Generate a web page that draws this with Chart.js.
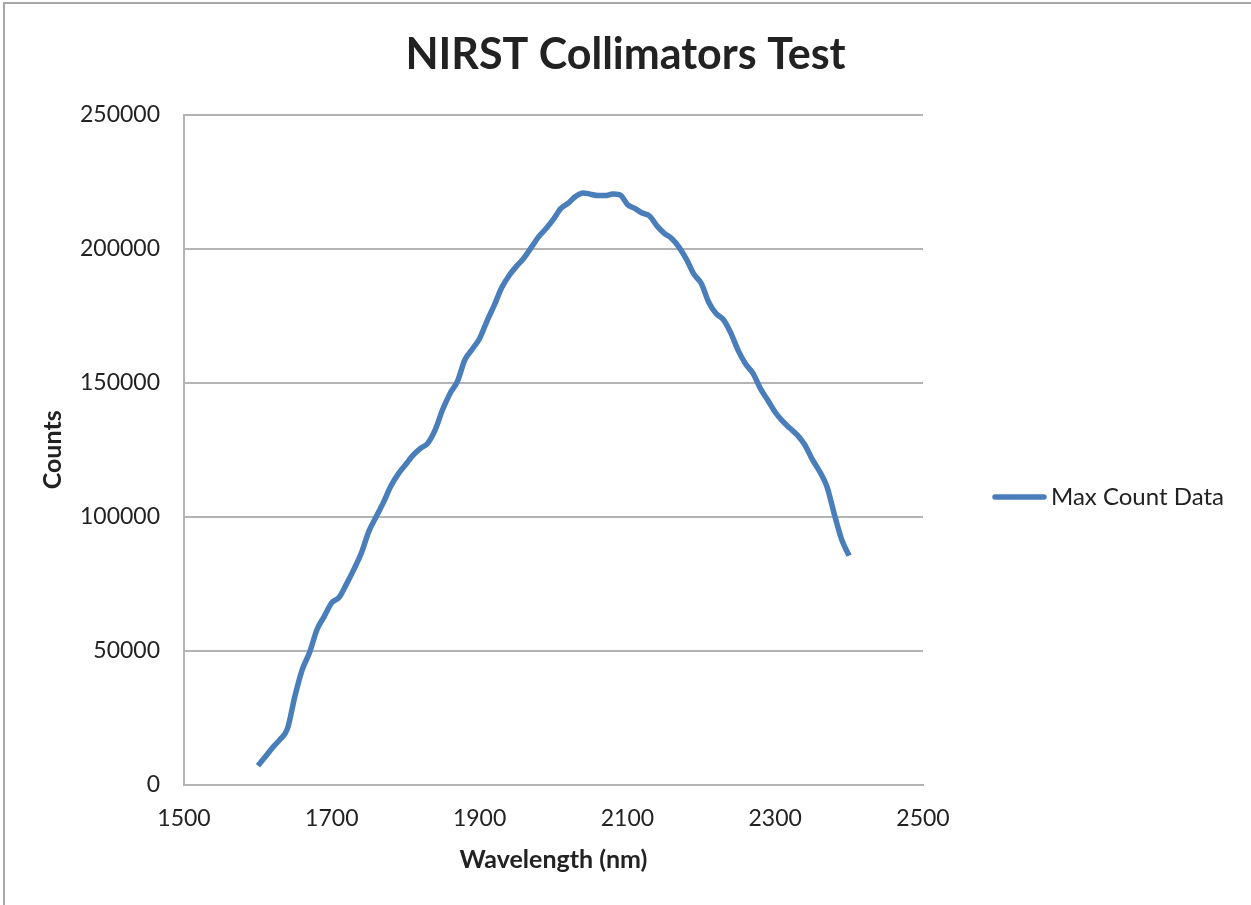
<!DOCTYPE html>
<html lang="en">
<head>
  <meta charset="UTF-8">
  <title>NIRST Collimators Test</title>
  <script src="https://cdn.jsdelivr.net/npm/chart.js"></script>
  <style>
    html, body { margin: 0; padding: 0; background: #fff; overflow: hidden; }
    #frame { position: absolute; left: 3px; top: 2px; width: 1400px; height: 1000px; border: 2px solid #a8a8a8; }
    #wrap { position: absolute; left: 0; top: 0; width: 1251px; height: 905px; }
  </style>
</head>
<body>
  <div id="frame"></div>
  <div id="wrap"><canvas id="chart"></canvas></div>
  <script>
  // wavelength (nm), every 10 nm
  const wavelengths = [
    1600, 1610, 1620, 1630, 1640, 1650, 1660, 1670, 1680, 1690,
    1700, 1710, 1720, 1730, 1740, 1750, 1760, 1770, 1780, 1790,
    1800, 1810, 1820, 1830, 1840, 1850, 1860, 1870, 1880, 1890,
    1900, 1910, 1920, 1930, 1940, 1950, 1960, 1970, 1980, 1990,
    2000, 2010, 2020, 2030, 2040, 2050, 2060, 2070, 2080, 2090,
    2100, 2110, 2120, 2130, 2140, 2150, 2160, 2170, 2180, 2190,
    2200, 2210, 2220, 2230, 2240, 2250, 2260, 2270, 2280, 2290,
    2300, 2310, 2320, 2330, 2340, 2350, 2360, 2370, 2380, 2390,
    2400
  ];
  const maxCounts = [
    7200, 10500, 14000, 17000, 21000, 33000, 43000, 49500, 58000, 63000,
    68000, 70000, 75000, 80500, 86500, 94500, 100000, 105500, 111500, 116000,
    119500, 123000, 125500, 127500, 132500, 140000, 146000, 150500, 158500, 162500,
    166500, 173000, 179000, 185500, 190000, 193500, 196500, 200500, 204500, 207500,
    211000, 215000, 217000, 219500, 220800, 220300, 219800, 219800, 220400, 220100,
    216500, 215000, 213300, 212200, 208500, 205700, 203800, 200500, 196000, 190500,
    187000, 180000, 175800, 173500, 168500, 162000, 157000, 153500, 147800, 143500,
    139000, 135700, 133000, 130500, 126900, 121500, 117000, 111300, 101000, 91500,
    85500
  ];
  const seriesLabel = 'Max Count Data';
  const lineColor = '#4a7ebb';
  const gridColor = '#b3b3b3';
  const fontFamily = 'Lato, "Open Sans", sans-serif';

  const points = wavelengths.map((w, i) => ({ x: w, y: maxCounts[i] }));

  // legend to the right of the plot, Excel style (line sample + text)
  const sideLegend = {
    id: 'sideLegend',
    afterDraw(chart) {
      const ctx = chart.ctx;
      const ds = chart.data.datasets[0];
      const y = 497;
      ctx.save();
      ctx.strokeStyle = ds.borderColor;
      ctx.lineWidth = 5.5;
      ctx.lineCap = 'round';
      ctx.beginPath();
      ctx.moveTo(995, y);
      ctx.lineTo(1044, y);
      ctx.stroke();
      ctx.fillStyle = '#222';
      ctx.font = '24px ' + fontFamily;
      ctx.textBaseline = 'middle';
      ctx.fillText(ds.label, 1051, y);
      ctx.restore();
    }
  };

  new Chart(document.getElementById('chart'), {
    type: 'line',
    data: {
      datasets: [{
        label: seriesLabel,
        data: points,
        borderColor: lineColor,
        backgroundColor: lineColor,
        borderWidth: 5.5,
        pointRadius: 0,
        tension: 0.4,
        cubicInterpolationMode: 'monotone'
      }]
    },
    options: {
      responsive: true,
      maintainAspectRatio: false,
      animation: false,
      layout: { padding: 0 },
      plugins: {
        legend: { display: false },
        tooltip: { enabled: false },
        title: {
          display: true,
          text: 'NIRST Collimators Test',
          color: '#222',
          font: { family: fontFamily, size: 43, weight: 'bold', lineHeight: 1.2 },
          padding: { top: 29, bottom: 34 }
        }
      },
      scales: {
        x: {
          type: 'linear',
          min: 1500,
          max: 2500,
          afterFit: s => { s.height = 120; },
          ticks: {
            stepSize: 200,
            color: '#222',
            padding: 20,
            maxRotation: 0,
            font: { family: fontFamily, size: 23 },
            callback: v => String(v)
          },
          grid: { display: false, drawTicks: false },
          border: { display: true, color: gridColor, width: 2 },
          title: {
            display: true,
            text: 'Wavelength (nm)',
            color: '#222',
            font: { family: fontFamily, size: 25, weight: 'bold', lineHeight: 1.2 },
            padding: { top: 0, bottom: 30 }
          }
        },
        y: {
          min: 0,
          max: 250000,
          afterFit: s => { s.width = 184; },
          ticks: {
            stepSize: 50000,
            color: '#222',
            padding: 24,
            font: { family: fontFamily, size: 23 },
            callback: v => String(v)
          },
          grid: { color: gridColor, lineWidth: 2, drawTicks: false },
          border: { display: true, color: gridColor, width: 2 },
          title: {
            display: true,
            text: 'Counts',
            color: '#222',
            font: { family: fontFamily, size: 25, weight: 'bold', lineHeight: 1.2 },
            padding: { top: 38, bottom: 0 }
          }
        },
        // empty right-hand box that keeps room for the legend
        legendSpace: {
          type: 'linear',
          position: 'right',
          afterFit: s => { s.width = 328; },
          ticks: { display: false },
          grid: { display: false, drawTicks: false },
          border: { display: false }
        }
      }
    },
    plugins: [sideLegend]
  });
  </script>
</body>
</html>
